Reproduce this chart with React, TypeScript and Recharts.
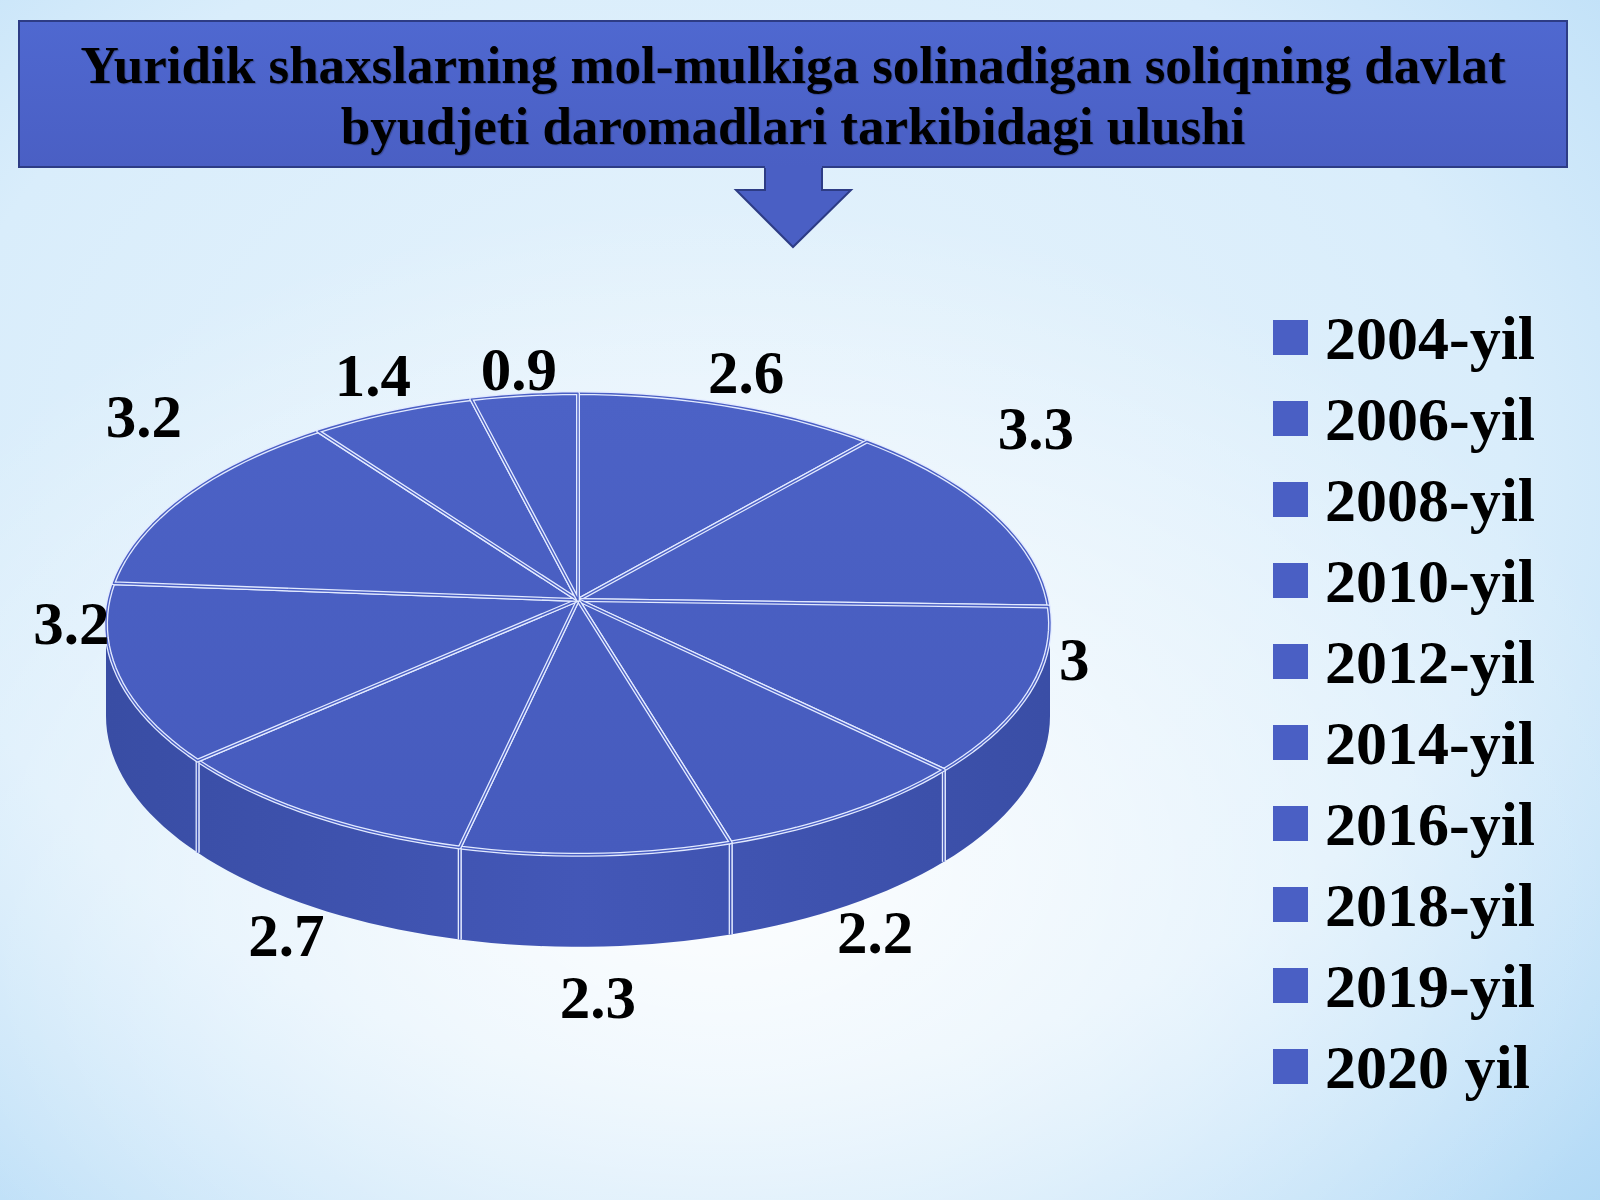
import { PieChart, Pie, Legend } from "recharts";

const years = ["2004-yil", "2006-yil", "2008-yil", "2010-yil", "2012-yil", "2014-yil", "2016-yil", "2018-yil", "2019-yil", "2020 yil"];
const shares = [2.6, 3.3, 3, 2.2, 2.3, 2.7, 3.2, 3.2, 1.4, 0.9];
const titleLines = [
  "Yuridik shaxslarning mol-mulkiga solinadigan soliqning davlat",
  "byudjeti daromadlari tarkibidagi ulushi",
];

const chartData = years.map((name, i) => ({ name, value: shares[i] }));

const RAD = Math.PI / 180;
const TILT = 0.489; // vertical squash of the disc
const DEPTH = 92; // thickness of the disc in px
const LIFT = 24; // perspective: apex sits above the ellipse centre
const SERIF = '"Liberation Serif", "Times New Roman", serif';
const EDGE = "#e2eaff";
const TOP_FILL = "#4a5fc4";

// 3D-looking wedge drawn from the angles recharts hands us
function Slice3D(props: any) {
  const { cx, cy, outerRadius, startAngle, endAngle } = props;
  const rx = outerRadius;
  const ry = outerRadius * TILT;
  const at = (a: number, dy = 0) =>
    `${(cx + rx * Math.cos(a * RAD)).toFixed(2)},${(cy - ry * Math.sin(a * RAD) + dy).toFixed(2)}`;
  const arc = (from: number, to: number, dy = 0) => {
    const n = Math.max(2, Math.ceil(Math.abs(to - from) / 2));
    const pts: string[] = [];
    for (let i = 0; i <= n; i++) pts.push(at(from + ((to - from) * i) / n, dy));
    return pts;
  };
  const top = `M${cx},${cy - LIFT} L${arc(startAngle, endAngle).join(" L")} Z`;
  const lo = Math.max(Math.min(startAngle, endAngle), -180);
  const hi = Math.min(Math.max(startAngle, endAngle), 0);
  const side = hi > lo ? `M${arc(lo, hi).join(" L")} L${arc(hi, lo, DEPTH).join(" L")} Z` : null;
  const edges = [startAngle, endAngle].filter((a) => a > -180 && a < 0);

  return (
    <g>
      <defs>
        <linearGradient id="pieSide" gradientUnits="userSpaceOnUse" x1={cx - rx} y1={0} x2={cx + rx} y2={0}>
          <stop offset="0%" stopColor="#394da4" />
          <stop offset="50%" stopColor="#4357b7" />
          <stop offset="100%" stopColor="#3a4ea6" />
        </linearGradient>
        <linearGradient id="pieTop" gradientUnits="userSpaceOnUse" x1={0} y1={cy - ry} x2={0} y2={cy + ry}>
          <stop offset="0%" stopColor="#4c62c6" />
          <stop offset="100%" stopColor="#465bbd" />
        </linearGradient>
      </defs>
      {side && <path d={side} fill="url(#pieSide)" />}
      {edges.map((a) => {
        const x = cx + rx * Math.cos(a * RAD);
        const y = cy - ry * Math.sin(a * RAD);
        return (
          <g key={a}>
            <line x1={x} y1={y} x2={x} y2={y + DEPTH} stroke={EDGE} strokeWidth={4} />
            <line x1={x} y1={y} x2={x} y2={y + DEPTH} stroke="#4256b6" strokeWidth={1.4} />
          </g>
        );
      })}
      <path d={top} fill="url(#pieTop)" stroke={EDGE} strokeWidth={4} strokeLinejoin="round" />
      <path d={top} fill="none" stroke={TOP_FILL} strokeWidth={1.4} strokeLinejoin="round" />
    </g>
  );
}

const renderLabel = (p: any) => {
  const { cx, cy, midAngle, outerRadius, value } = p;
  const s = Math.cos(midAngle * RAD);
  const c = Math.sin(midAngle * RAD);
  const ry = outerRadius * TILT;
  const x = cx + (outerRadius + 48) * s;
  const y =
    c > 0
      ? cy - 9 - c * (ry + 15) - 90 * s * s
      : cy - 9 - c * (ry + DEPTH + 60) - 90 * s * s + 150 * s * s * c * c;
  return (
    <text x={x} y={y} textAnchor="middle" dominantBaseline="central" fill="#000"
      style={{ fontFamily: SERIF, fontWeight: 700, fontSize: 61 }}>
      {value}
    </text>
  );
};

const renderLegend = ({ payload }: any) => (
  <div>
    {(payload || []).map((e: any) => (
      <div key={e.value} style={{ height: 81, display: "flex", alignItems: "center" }}>
        <span style={{ width: 35, height: 35, background: e.color, marginRight: 17, display: "inline-block" }} />
        <span style={{ fontFamily: SERIF, fontWeight: 700, fontSize: 62, color: "#000", lineHeight: 1 }}>{e.value}</span>
      </div>
    ))}
  </div>
);

export default function App() {
  return (
    <div
      style={{
        position: "fixed",
        left: 0,
        top: 0,
        width: 1600,
        height: 1200,
        overflow: "hidden",
        background:
          "radial-gradient(ellipse 60% 55% at 45% 72%, rgba(255,255,255,0.95) 0%, rgba(255,255,255,0) 100%), " +
          "radial-gradient(ellipse 90% 90% at 45% 40%, #e6f3fc 0%, #d9edfb 55%, #b9ddf7 85%, #a6d3f3 100%)",
      }}
    >
      {/* title box */}
      <div
        style={{
          position: "absolute",
          left: 18,
          top: 20,
          width: 1546,
          height: 131,
          border: "2px solid #2d3c85",
          background: "linear-gradient(180deg, #4f68d0 0%, #4a5fc4 100%)",
          textAlign: "center",
          fontFamily: SERIF,
          fontWeight: 700,
          fontSize: 53,
          lineHeight: "61px",
          paddingTop: 13,
          color: "#000",
          textShadow: "1px 1px 1px rgba(0,0,0,0.25)",
        }}
      >
        {titleLines.map((t) => (
          <div key={t}>{t}</div>
        ))}
      </div>
      {/* arrow */}
      <svg style={{ position: "absolute", left: 0, top: 0 }} width={1600} height={260}>
        <polygon points="765,166 822,166 822,190 851,190 793,247 736,190 765,190" fill={TOP_FILL} />
        <polyline points="765,168 765,190 736,190 793,247 851,190 822,190 822,168" fill="none" stroke="#2d3c85" strokeWidth={2} />
      </svg>

      <div style={{ position: "absolute", left: 0, top: 0 }}>
        <PieChart width={1600} height={1200} margin={{ top: 0, right: 0, bottom: 0, left: 0 }}>
          <Pie
            data={chartData}
            dataKey="value"
            nameKey="name"
            cx={578}
            cy={624}
            outerRadius={472}
            startAngle={90}
            endAngle={-270}
            fill={TOP_FILL}
            stroke="none"
            isAnimationActive={false}
            activeShape={Slice3D}
            inactiveShape={Slice3D}
            shape={Slice3D}
            label={renderLabel}
            labelLine={false}
          />
          <Legend
            layout="vertical"
            align="right"
            verticalAlign="top"
            content={renderLegend}
            wrapperStyle={{ left: 1273, top: 297, width: 320 }}
          />
        </PieChart>
      </div>
    </div>
  );
}
